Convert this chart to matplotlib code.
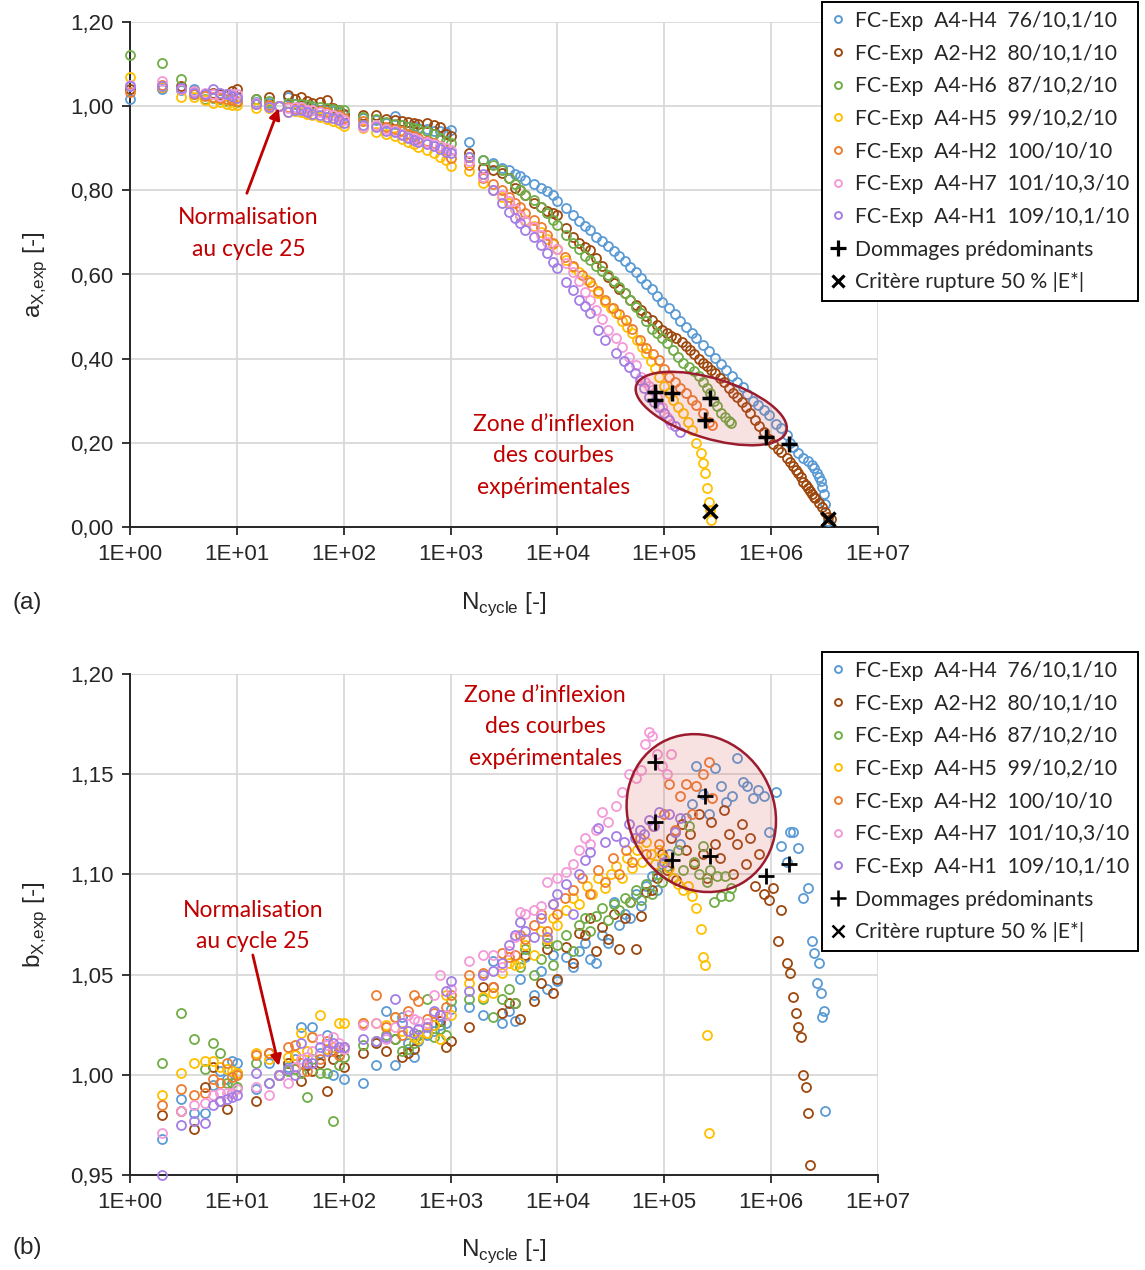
import numpy as np
import matplotlib
matplotlib.use("Agg")
import matplotlib.pyplot as plt
import matplotlib.ticker as ticker
from matplotlib.patches import Ellipse
from matplotlib.lines import Line2D
from matplotlib.transforms import ScaledTranslation

nan = np.nan

# ---------------- data ----------------
n_early = [1, 2, 3, 4, 5, 6, 7, 8, 9, 10,
           15, 20, 25, 30, 35, 40, 45, 50, 60, 70,
           80, 90, 100, 150, 200, 250, 300, 350, 400, 450,
           500, 600, 700, 800, 900, 1000]

# A4-H4 76/10,1/10 (blue)
n_h4 = n_early + [1500, 2000, 2500, 3000, 3500, 4000, 4500, 5000, 6000, 7000,
                  8000, 9000, 10000, 12000, 14000, 16000, 18000, 20000, 23000, 26000,
                  30000, 34000, 38000, 43000, 48000, 54000, 60000, 68000, 76000, 85000,
                  95000, 110000, 125000, 140000, 160000, 180000, 200000, 230000, 260000, 300000,
                  340000, 380000, 430000, 480000, 540000, 600000, 680000, 760000, 850000, 950000,
                  1100000, 1250000, 1400000, 1500000, 1600000, 1800000, 2000000, 2200000, 2400000, 2500000,
                  2700000, 2800000, 2900000, 3000000, 3100000, 3200000, 3400000]
a_h4 = [1.017, 1.040, 1.038, 1.040, 1.030, 1.028, 1.030, 1.025, 1.028, 1.022,
        1.010, 1.008, 1.000, 1.021, 1.005, 1.002, 0.998, 0.995, 0.992, 0.990,
        0.988, 0.985, 0.980, 0.972, 0.968, 0.960, 0.976, 0.955, 0.950, 0.952,
        0.948, 0.945, 0.942, 0.940, 0.938, 0.943,
        0.915, 0.872, 0.865, 0.853, 0.848, 0.840, 0.835, 0.825, 0.815, 0.805,
        0.798, 0.790, 0.775, 0.758, 0.742, 0.728, 0.715, 0.705, 0.690, 0.680,
        0.668, 0.655, 0.645, 0.632, 0.618, 0.605, 0.592, 0.578, 0.565, 0.550,
        0.535, 0.520, 0.505, 0.490, 0.475, 0.460, 0.448, 0.432, 0.418, 0.402,
        0.388, 0.372, 0.358, 0.345, 0.332, 0.315, 0.300, 0.290, 0.278, 0.265,
        0.245, 0.235, 0.218, 0.200, 0.190, 0.175, 0.165, 0.157, 0.148, 0.140,
        0.128, 0.119, 0.110, 0.095, 0.078, 0.055, 0.015]
b_h4 = [nan, 0.968, 0.988, 0.981, 0.981, 0.995, 1.002, 0.998, 1.007, 1.006,
        0.993, 1.006, 1.000, 1.004, 1.008, 1.024, 1.005, 1.024, 1.011, 1.020,
        1.000, 1.010, 0.998, 0.996, 1.005, 1.032, 1.005, 1.029, 1.016, 1.009,
        1.017, 1.020, 1.022, 1.025, 1.026, 1.033,
        1.034, 1.030, 1.057, 1.026, 1.032, 1.027, 1.048, 1.059, 1.040, 1.052,
        1.043, 1.060, 1.047, 1.059, 1.054, 1.062, 1.066, 1.058, 1.056, 1.070,
        1.066, 1.086, 1.075, 1.080, 1.078, 1.090, 1.084, 1.094, 1.099, 1.092,
        1.105, 1.110, 1.121, 1.115, 1.128, 1.135, 1.154, 1.140, 1.130, 1.153,
        1.144, 1.136, 1.139, 1.158, 1.146, 1.144, 1.138, 1.142, 1.139, 1.121,
        1.141, 1.114, 1.106, 1.121, 1.121, 1.113, 1.088, 1.093, 1.067, 1.061,
        1.046, 1.056, 1.041, 1.029, 1.032, 0.982, nan]

# A2-H2 80/10,1/10 (brown)
n_h2b = n_early + [1500, 2000, 2500, 3000, 3500, 4000, 4500, 5000, 6000, 7000,
                   8000, 9000, 10000, 12000, 14000, 16000, 18000, 20000, 23000, 26000,
                   30000, 34000, 38000, 43000, 48000, 54000, 60000, 68000, 76000, 85000,
                   95000, 105000, 115000, 130000, 145000, 160000, 175000, 190000, 210000, 230000,
                   250000, 275000, 300000, 330000, 360000, 400000, 440000, 480000, 530000, 580000,
                   640000, 700000, 770000, 850000, 950000, 1050000, 1150000, 1250000, 1400000, 1500000,
                   1600000, 1700000, 1800000, 1900000, 2000000, 2100000, 2200000, 2300000, 2400000, 2500000,
                   2600000, 2800000, 3000000, 3200000, 3400000, 3600000]
a_h2b = [1.040, 1.045, 1.048, 1.035, 1.030, 1.032, 1.028, 1.030, 1.035, 1.040,
         1.017, 1.021, 1.000, 1.026, 1.017, 1.021, 1.012, 1.008, 1.010, 1.015,
         0.995, 0.990, 0.981, 0.979, 0.978, 0.970, 0.968, 0.965, 0.962, 0.960,
         0.958, 0.960, 0.955, 0.950, 0.935, 0.930,
         0.889, 0.853, 0.848, 0.841, 0.830, 0.806, 0.800, 0.790, 0.770, 0.760,
         0.750, 0.745, 0.741, 0.710, 0.689, 0.675, 0.665, 0.658, 0.640, 0.620,
         0.594, 0.580, 0.565, 0.556, 0.540, 0.528, 0.515, 0.502, 0.492, 0.480,
         0.468, 0.460, 0.455, 0.448, 0.440, 0.430, 0.420, 0.410, 0.400, 0.390,
         0.382, 0.373, 0.366, 0.355, 0.345, 0.330, 0.318, 0.308, 0.298, 0.285,
         0.270, 0.255, 0.240, 0.225, 0.210, 0.198, 0.186, 0.178, 0.165, 0.155,
         0.145, 0.135, 0.128, 0.118, 0.108, 0.100, 0.092, 0.085, 0.078, 0.072,
         0.068, 0.058, 0.048, 0.035, 0.024, 0.018]
b_h2b = [nan, 0.980, 0.982, 0.973, 0.994, 1.004, 0.987, 0.983, 0.991, 1.001,
         0.987, 1.011, 1.000, 1.006, 1.010, 0.997, 1.005, 1.002, 1.006, 0.992,
         1.008, 1.012, 1.004, 1.011, 1.016, 1.012, 1.018, 1.009, 1.011, 1.013,
         1.020, 1.021, 1.025, 1.027, 1.014, 1.017,
         1.024, 1.044, 1.044, 1.031, 1.036, 1.036, 1.028, 1.060, 1.037, 1.046,
         1.063, 1.041, 1.048, 1.064, 1.056, 1.071, 1.070, 1.078, 1.062, 1.074,
         1.068, 1.080, 1.063, 1.078, 1.086, 1.063, 1.079, 1.091, 1.092, 1.098,
         1.110, 1.102, 1.118, 1.097, 1.125, 1.112, 1.120, 1.105, 1.130, 1.110,
         1.098, 1.126, 1.115, 1.108, 1.132, 1.120, 1.100, 1.115, 1.125, 1.105,
         1.118, 1.094, 1.110, 1.090, 1.087, 1.093, 1.067, 1.082, 1.056, 1.051,
         1.039, 1.031, 1.024, 1.019, 1.000, 0.994, 0.981, 0.955, nan, nan,
         nan, nan, nan, nan, nan, nan]

# A4-H6 87/10,2/10 (green)
n_h6 = n_early + [1500, 2000, 2500, 3000, 3500, 4000, 4500, 5000, 6000, 7000,
                  8000, 9000, 10000, 12000, 14000, 16000, 18000, 20000, 23000, 26000,
                  30000, 34000, 38000, 43000, 48000, 54000, 60000, 68000, 76000, 85000,
                  95000, 105000, 120000, 135000, 150000, 170000, 190000, 210000, 230000, 250000,
                  270000, 290000, 310000, 340000, 370000, 400000, 420000]
a_h6 = [1.121, 1.102, 1.064, 1.030, 1.017, 1.020, 1.018, 1.012, 1.015, 1.010,
        1.017, 1.012, 1.000, 1.008, 1.005, 1.005, 1.002, 1.000, 0.998, 0.995,
        0.993, 0.992, 0.990, 0.975, 0.970, 0.962, 0.958, 0.955, 0.950, 0.948,
        0.945, 0.940, 0.935, 0.925, 0.918, 0.912,
        0.880, 0.872, 0.860, 0.848, 0.830, 0.815, 0.800, 0.790, 0.778, 0.760,
        0.745, 0.730, 0.718, 0.695, 0.675, 0.660, 0.645, 0.635, 0.620, 0.608,
        0.598, 0.585, 0.570, 0.555, 0.540, 0.522, 0.508, 0.490, 0.470, 0.460,
        0.450, 0.438, 0.420, 0.405, 0.390, 0.380, 0.370, 0.360, 0.345, 0.330,
        0.318, 0.300, 0.288, 0.271, 0.262, 0.252, 0.247]
b_h6 = [nan, 1.006, 1.031, 1.018, 1.003, 1.016, 1.011, 0.996, 0.996, 0.994,
        1.006, 0.996, 1.000, 1.002, 1.003, 1.001, 0.989, 1.008, 1.001, 1.001,
        0.977, 1.005, 1.009, 1.015, 1.017, 1.020, 1.018, 1.012, 1.013, 1.016,
        1.020, 1.038, 1.019, 1.023, 1.020, 1.037,
        1.038, 1.038, 1.029, 1.038, 1.043, 1.036, 1.054, 1.063, 1.050, 1.058,
        1.066, 1.055, 1.065, 1.070, 1.062, 1.075, 1.078, 1.072, 1.079, 1.083,
        1.077, 1.085, 1.082, 1.088, 1.086, 1.092, 1.087, 1.095, 1.090, 1.100,
        1.096, 1.104, 1.098, 1.112, 1.102, 1.124, 1.106, 1.100, 1.114, 1.096,
        1.102, 1.086, 1.099, 1.089, 1.099, 1.089, 1.093]

# A4-H5 99/10,2/10 (yellow)
n_h5 = n_early + [1500, 2000, 2500, 3000, 3500, 4000, 4500, 5000, 6000, 7000,
                  8000, 9000, 10000, 12000, 14000, 16000, 19000, 21000, 24000, 28000,
                  32000, 35000, 40000, 45000, 50000, 56000, 62000, 68000, 75000, 82000,
                  90000, 100000, 110000, 120000, 135000, 150000, 165000, 180000, 200000, 220000,
                  230000, 240000, 250000, 260000, 270000, 275000]
a_h5 = [1.069, 1.045, 1.021, 1.021, 1.015, 1.007, 1.010, 1.005, 1.003, 1.002,
        0.995, 0.995, 1.000, 0.986, 0.988, 0.985, 0.982, 0.978, 0.975, 0.970,
        0.965, 0.960, 0.952, 0.948, 0.938, 0.935, 0.930, 0.922, 0.915, 0.910,
        0.903, 0.895, 0.888, 0.880, 0.872, 0.858,
        0.845, 0.817, 0.800, 0.785, 0.770, 0.755, 0.742, 0.730, 0.715, 0.700,
        0.685, 0.672, 0.660, 0.635, 0.618, 0.605, 0.587, 0.572, 0.556, 0.535,
        0.520, 0.508, 0.490, 0.475, 0.460, 0.445, 0.428, 0.413, 0.395, 0.378,
        0.356, 0.335, 0.318, 0.302, 0.285, 0.271, 0.250, 0.230, 0.200, 0.176,
        0.152, 0.128, 0.093, 0.059, 0.040, 0.017]
b_h5 = [nan, 0.990, 1.001, 1.006, 1.007, 1.007, 1.004, 1.003, 1.002, 1.001,
        1.011, 1.008, 1.000, 1.009, 1.010, 1.021, 1.012, 1.019, 1.030, 1.013,
        1.014, 1.026, 1.026, 1.026, 1.026, 1.025, 1.029, 1.022, 1.022, 1.019,
        1.018, 1.021, 1.025, 1.018, 1.040, 1.030,
        1.046, 1.039, 1.041, 1.051, 1.056, 1.055, 1.056, 1.065, 1.060, 1.072,
        1.068, 1.078, 1.075, 1.082, 1.088, 1.085, 1.094, 1.090, 1.098, 1.093,
        1.100, 1.104, 1.098, 1.108, 1.103, 1.112, 1.106, 1.116, 1.110, 1.105,
        1.112, 1.108, 1.103, 1.098, 1.095, 1.092, 1.094, 1.089, 1.083, 1.073,
        1.059, 1.055, 1.020, 0.971, nan, nan]

# A4-H2 100/10/10 (orange)
n_h2 = n_early + [1500, 2000, 2500, 3000, 3500, 4000, 4500, 5000, 6000, 7000,
                  8000, 9000, 10000, 11700, 14000, 17000, 20000, 24000, 28000, 33000,
                  38000, 44000, 50000, 59000, 68000, 78000, 90000, 100000, 110000, 125000,
                  140000, 160000, 180000, 200000, 230000, 260000, 280000]
a_h2 = [1.033, 1.050, 1.040, 1.030, 1.024, 1.022, 1.020, 1.018, 1.015, 1.012,
        1.005, 1.003, 1.000, 0.998, 0.996, 0.995, 0.992, 0.990, 0.988, 0.985,
        0.980, 0.978, 0.972, 0.965, 0.955, 0.950, 0.945, 0.940, 0.935, 0.930,
        0.925, 0.918, 0.912, 0.905, 0.898, 0.878,
        0.860, 0.830, 0.815, 0.800, 0.785, 0.770, 0.760, 0.745, 0.730, 0.712,
        0.695, 0.675, 0.660, 0.642, 0.620, 0.600, 0.582, 0.560, 0.540, 0.520,
        0.505, 0.492, 0.470, 0.444, 0.425, 0.410, 0.397, 0.375, 0.356, 0.345,
        0.330, 0.318, 0.302, 0.290, 0.271, 0.250, 0.243]
b_h2 = [nan, 0.985, 0.993, 0.990, 0.991, 0.998, 0.996, 1.006, 0.999, 1.000,
        1.010, 1.011, 1.000, 1.014, 1.015, 1.006, 1.002, 1.019, 1.008, 1.017,
        1.012, 1.010, 1.014, 1.026, 1.040, 1.024, 1.029, 1.020, 1.032, 1.040,
        1.037, 1.028, 1.031, 1.030, 1.034, 1.040,
        1.050, 1.051, 1.044, 1.061, 1.059, 1.060, 1.070, 1.068, 1.075, 1.080,
        1.072, 1.085, 1.080, 1.088, 1.092, 1.098, 1.090, 1.102, 1.096, 1.108,
        1.100, 1.112, 1.106, 1.118, 1.110, 1.124, 1.115, 1.130, 1.145, 1.122,
        1.139, 1.145, 1.130, 1.144, 1.150, 1.156, 1.138]

# A4-H7 101/10,3/10 (pink)
n_h7 = n_early + [1500, 2000, 2500, 3000, 3500, 4000, 4500, 5000, 6000, 7000,
                  8000, 10000, 12000, 14000, 16000, 18000, 20000, 23000, 26000, 30000,
                  35000, 40000, 47000, 54000, 60000, 66000, 72000, 76000, 85000, 95000,
                  105000, 115000]
a_h7 = [1.050, 1.059, 1.040, 1.035, 1.031, 1.028, 1.025, 1.030, 1.028, 1.030,
        1.007, 0.998, 1.000, 0.995, 0.997, 0.997, 0.992, 0.990, 0.985, 0.982,
        0.978, 0.975, 0.968, 0.950, 0.955, 0.945, 0.940, 0.935, 0.927, 0.925,
        0.920, 0.915, 0.910, 0.905, 0.900, 0.896,
        0.870, 0.832, 0.800, 0.790, 0.775, 0.755, 0.740, 0.728, 0.713, 0.695,
        0.677, 0.660, 0.627, 0.606, 0.585, 0.558, 0.540, 0.516, 0.495, 0.468,
        0.448, 0.428, 0.405, 0.385, 0.356, 0.345, 0.335, 0.325, 0.310, 0.285,
        0.262, 0.245]
b_h7 = [nan, 0.971, 0.982, 0.985, 0.986, 0.990, 0.991, 0.991, 0.991, 0.993,
        0.994, 0.990, 1.000, 0.996, 1.004, 1.008, 1.009, 1.012, 1.018, 1.015,
        1.019, 1.016, 1.013, 1.025, 1.026, 1.018, 1.024, 1.026, 1.030, 1.028,
        1.027, 1.026, 1.040, 1.050, 1.030, 1.043,
        1.057, 1.060, 1.060, 1.054, 1.062, 1.069, 1.081, 1.080, 1.082, 1.084,
        1.096, 1.098, 1.101, 1.105, 1.112, 1.118, 1.115, 1.122, 1.131, 1.126,
        1.134, 1.141, 1.150, 1.148, 1.152, 1.165, 1.171, 1.169, 1.160, 1.154,
        1.150, 1.160]

# A4-H1 109/10,1/10 (purple)
n_h1 = n_early + [1500, 2000, 2500, 3000, 3500, 4000, 4500, 5000, 6000, 7000,
                  8000, 9000, 10000, 12000, 14000, 16000, 18000, 20000, 24000, 28000,
                  35000, 42000, 47000, 53000, 59000, 65000, 72000, 80000, 90000, 100000,
                  110000, 125000, 140000]
a_h1 = [1.048, 1.048, 1.042, 1.031, 1.028, 1.040, 1.032, 1.030, 1.025, 1.020,
        1.005, 0.998, 1.000, 0.985, 0.992, 0.990, 0.985, 0.982, 0.980, 0.975,
        0.972, 0.968, 0.960, 0.955, 0.950, 0.942, 0.938, 0.932, 0.925, 0.920,
        0.915, 0.910, 0.905, 0.898, 0.892, 0.888,
        0.880, 0.840, 0.800, 0.770, 0.748, 0.735, 0.722, 0.705, 0.689, 0.670,
        0.650, 0.630, 0.615, 0.582, 0.563, 0.540, 0.525, 0.508, 0.468, 0.444,
        0.413, 0.395, 0.380, 0.365, 0.349, 0.330, 0.309, 0.298, 0.285, 0.270,
        0.254, 0.240, 0.226]
b_h1 = [nan, 0.950, 0.975, 0.977, 0.976, 0.985, 0.987, 0.988, 0.989, 0.990,
        1.001, 0.996, 1.000, 1.003, 1.000, 1.016, 1.006, 1.006, 1.014, 1.012,
        1.016, 1.014, 1.014, 1.018, 1.017, 1.019, 1.038, 1.026, 1.022, 1.021,
        1.023, 1.024, 1.032, 1.030, 1.042, 1.047,
        1.042, 1.050, 1.052, 1.056, 1.065, 1.070, 1.076, 1.072, 1.069, 1.078,
        1.069, 1.085, 1.090, 1.095, 1.080, 1.100, 1.107, 1.111, 1.123, 1.116,
        1.119, 1.116, 1.125, 1.118, 1.122, 1.120, 1.127, 1.124, 1.131, 1.106,
        1.130, 1.121, 1.128]

# predominant damage (+) and 50 % |E*| failure (x)
damage_n = [82000, 82000, 118000, 240000, 270000, 890000, 1480000]
damage_a = [0.321, 0.302, 0.319, 0.254, 0.307, 0.214, 0.197]
damage_b = [1.156, 1.126, 1.107, 1.139, 1.109, 1.099, 1.105]
rupture_n = [270000, 3400000]
rupture_a = [0.038, 0.019]

labels = ["FC-Exp  A4-H4  76/10,1/10", "FC-Exp  A2-H2  80/10,1/10",
          "FC-Exp  A4-H6  87/10,2/10", "FC-Exp  A4-H5  99/10,2/10",
          "FC-Exp  A4-H2  100/10/10", "FC-Exp  A4-H7  101/10,3/10",
          "FC-Exp  A4-H1  109/10,1/10"]
colors = ["#5B9BD5", "#9E480E", "#70AD47", "#FFC000", "#ED7D31", "#F49AD8", "#A47EE6"]
series_n = [n_h4, n_h2b, n_h6, n_h5, n_h2, n_h7, n_h1]
series_a = [a_h4, a_h2b, a_h6, a_h5, a_h2, a_h7, a_h1]
series_b = [b_h4, b_h2b, b_h6, b_h5, b_h2, b_h7, b_h1]

# ---------------- style ----------------
plt.rcParams["font.family"] = ["Liberation Sans", "DejaVu Sans"]
plt.rcParams["mathtext.fontset"] = "custom"
plt.rcParams["mathtext.rm"] = "Liberation Sans"
TXT = "#262626"
RED = "#C00000"
ANNOT_FONT = ["Lato", "DejaVu Sans"]
DPI = 100

fig = plt.figure(figsize=(11.45, 12.7), dpi=DPI)
ax1 = fig.add_axes([130 / 1145, 1 - 527 / 1270, 748 / 1145, 505 / 1270])
ax2 = fig.add_axes([130 / 1145, 1 - 1175 / 1270, 748 / 1145, 501 / 1270])


def style_axis(ax, ymin, ymax, ystep, ylabel):
    ax.set_xscale("log")
    ax.set_xlim(1, 1e7)
    ax.set_ylim(ymin, ymax)
    ax.xaxis.set_major_locator(ticker.LogLocator(base=10, numticks=10))
    ax.xaxis.set_minor_locator(ticker.NullLocator())
    ax.xaxis.set_major_formatter(ticker.FuncFormatter(
        lambda v, p: "1E+%02d" % int(round(np.log10(v)))))
    ax.yaxis.set_major_locator(ticker.MultipleLocator(ystep))
    ax.yaxis.set_major_formatter(ticker.FuncFormatter(
        lambda v, p: ("%.2f" % v).replace(".", ",")))
    ax.grid(True, color="#D9D9D9", lw=1.3)
    ax.set_axisbelow(True)
    for s in ["top", "right"]:
        ax.spines[s].set_visible(False)
    for s in ["left", "bottom"]:
        ax.spines[s].set_color("#262626")
        ax.spines[s].set_linewidth(1.4)
    ax.tick_params(which="major", direction="out", length=6, width=1.3,
                   color="#262626", labelsize=16, labelcolor=TXT, pad=6)
    ax.set_xlabel(r"N$_{\mathregular{cycle}}$ [-]", fontsize=17.5, color=TXT)
    ax.set_ylabel(ylabel, fontsize=17.5, color=TXT)
    ax.xaxis.set_label_coords(0.5, -0.125)
    ax.yaxis.set_label_coords(-0.108, 0.5)


def add_zone(ax, n0, y0, w_px, h_px, angle):
    tr = fig.dpi_scale_trans + ScaledTranslation(n0, y0, ax.transData)
    e = Ellipse((0, 0), w_px / DPI, h_px / DPI, angle=angle, transform=tr,
                facecolor=(0.85, 0.35, 0.35, 0.18), edgecolor="#9B1C2E",
                lw=1.8, zorder=6)
    ax.add_patch(e)


def add_legend(ax, y_top, plus_w):
    handles = [Line2D([], [], ls="none", marker="o", ms=5, mfc="none",
                      mec=c, mew=1.4) for c in colors]
    handles.append(Line2D([], [], ls="none", marker="+", ms=11, color="black", mew=plus_w))
    handles.append(Line2D([], [], ls="none", marker="x", ms=8, color="black", mew=plus_w))
    leg = ax.legend(handles, labels + ["Dommages prédominants", "Critère rupture 50 % |E*|"],
                    loc="upper left", bbox_to_anchor=(822 / 1145, 1 - y_top / 1270),
                    bbox_transform=fig.transFigure, frameon=True, fancybox=False,
                    framealpha=1, edgecolor="black", borderpad=0.42, labelspacing=0.6,
                    handlelength=0.7, handletextpad=0.45, borderaxespad=0,
                    prop={"family": ANNOT_FONT, "size": 15.2})
    leg.get_frame().set_linewidth(1.4)
    for t in leg.get_texts():
        t.set_color(TXT)


# ---------------- panel (a) ----------------
for n, a, c in zip(series_n, series_a, colors):
    ax1.plot(n, a, ls="none", marker="o", ms=6.5, mfc="none", mec=c, mew=1.3,
             clip_on=False, zorder=3)
add_zone(ax1, 2.75e5, 0.2815, 157, 60, -17)
ax1.plot(damage_n, damage_a, ls="none", marker="+", ms=12, color="black", mew=2.5, zorder=8)
ax1.plot(rupture_n, rupture_a, ls="none", marker="x", ms=10, color="black", mew=2.5,
         clip_on=False, zorder=8)
style_axis(ax1, 0, 1.2, 0.2, r"a$_{\mathregular{X{,}exp}}$ [-]")
ax1.annotate("", xy=(24.7, 0.995), xytext=(12.4, 0.793),
             arrowprops=dict(arrowstyle="-|>", color=RED, lw=2, mutation_scale=16,
                             shrinkA=0, shrinkB=0), zorder=9)
ax1.text(12.9, 0.698, "Normalisation\nau cycle 25", color=RED, ha="center", va="center",
         fontsize=16.5, family=ANNOT_FONT, linespacing=1.62)
ax1.text(9.2e3, 0.169, "Zone d\u2019inflexion\ndes courbes\nexpérimentales", color=RED,
         ha="center", va="center", fontsize=16.5, family=ANNOT_FONT, linespacing=1.62)
add_legend(ax1, 2, 2.3)

# ---------------- panel (b) ----------------
for n, b, c in zip(series_n, series_b, colors):
    ax2.plot(n, b, ls="none", marker="o", ms=6.5, mfc="none", mec=c, mew=1.3,
             clip_on=False, zorder=3)
add_zone(ax2, 2.22e5, 1.1306, 162, 145, -60)
ax2.plot(damage_n, damage_b, ls="none", marker="+", ms=12, color="black", mew=2.0, zorder=8)
style_axis(ax2, 0.95, 1.2, 0.05, r"b$_{\mathregular{X{,}exp}}$ [-]")
ax2.annotate("", xy=(24.7, 1.0044), xytext=(14.1, 1.0598),
             arrowprops=dict(arrowstyle="-|>", color=RED, lw=2, mutation_scale=16,
                             shrinkA=0, shrinkB=0), zorder=9)
ax2.text(14.1, 1.0743, "Normalisation\nau cycle 25", color=RED, ha="center", va="center",
         fontsize=16.5, family=ANNOT_FONT, linespacing=1.62)
ax2.text(7.7e3, 1.1736, "Zone d\u2019inflexion\ndes courbes\nexpérimentales", color=RED,
         ha="center", va="center", fontsize=16.5, family=ANNOT_FONT, linespacing=1.62)
add_legend(ax2, 652, 1.8)

fig.text(12 / 1145, 1 - 603 / 1270, "(a)", fontsize=17.5, color=TXT, va="center", ha="left")
fig.text(12 / 1145, 1 - 1248 / 1270, "(b)", fontsize=17.5, color=TXT, va="center", ha="left")

fig.savefig("out.png", dpi=DPI, facecolor="white")
